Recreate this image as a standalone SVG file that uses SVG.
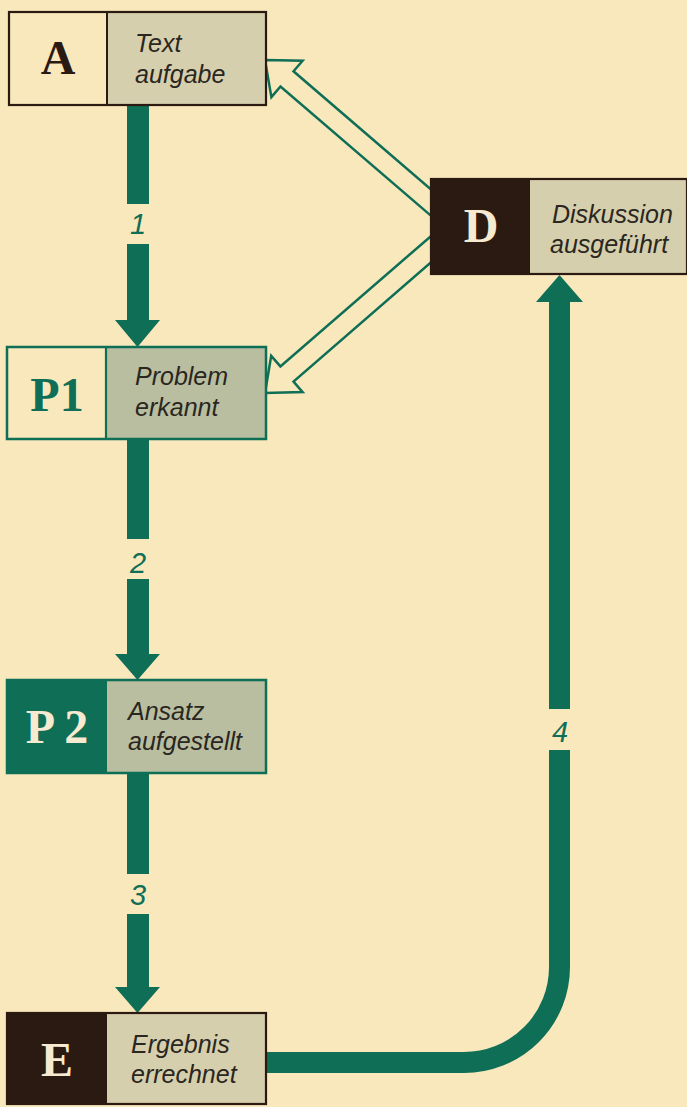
<svg xmlns="http://www.w3.org/2000/svg" width="687" height="1107" viewBox="0 0 687 1107">
<style>
.lbl{font-family:"Liberation Sans",Arial,sans-serif;font-style:italic;font-size:25px;fill:#2a2620}
.big{font-family:"Liberation Serif","Times New Roman",serif;font-size:48px;font-weight:bold;text-anchor:middle}
.num{font-family:"Liberation Sans",Arial,sans-serif;font-style:italic;font-size:29px;fill:#0f6e56;text-anchor:middle}
.g{fill:#0f6e56}
.open{fill:#f9e8bc;stroke:#0f6e56;stroke-width:2.5;stroke-linejoin:miter}
</style>
<rect width="687" height="1107" fill="#f9e8bc"/>
<g id="connectors">
  <rect class="g" x="127" y="105" width="22" height="99"/>
  <rect class="g" x="127" y="244" width="22" height="77"/>
  <polygon class="g" points="115,320 160,320 137.5,347"/>
  <text class="num" x="138" y="234">1</text>
  <rect class="g" x="127" y="439" width="22" height="100"/>
  <rect class="g" x="127" y="579" width="22" height="76"/>
  <polygon class="g" points="115,654 160,654 137.5,680"/>
  <text class="num" x="138" y="573">2</text>
  <rect class="g" x="127" y="773" width="22" height="101"/>
  <rect class="g" x="127" y="914" width="22" height="74"/>
  <polygon class="g" points="115,987 160,987 137.5,1013"/>
  <text class="num" x="138" y="905">3</text>
  <path d="M266 1062.5 H464 A95.5 95.5 0 0 0 559.5 967 V750" fill="none" stroke="#0f6e56" stroke-width="21"/>
  <rect class="g" x="549" y="301" width="21" height="408"/>
  <polygon class="g" points="536,302 583,302 559.5,275"/>
  <text class="num" x="560" y="742">4</text>
  <polygon class="open" points="265,60 302.6,60.7 293.5,71.3 432,190.3 432,216.6 280.5,86.5 271.4,97.1"/>
  <polygon class="open" points="265,393 271.2,355.9 280.4,366.4 432,235.2 432,261.4 293.5,381.6 302.6,392.1"/>
</g>
<g id="node-A">
  <rect x="9" y="12" width="98" height="93" fill="#f9e8bc"/>
  <rect x="107" y="12" width="159" height="93" fill="#d6cfae"/>
  <rect x="9" y="12" width="257" height="93" fill="none" stroke="#2b1a12" stroke-width="2.2"/>
  <line x1="107" y1="12" x2="107" y2="105" stroke="#2b1a12" stroke-width="2"/>
  <text class="big" x="58" y="74" fill="#2b1a12">A</text>
  <text class="lbl" x="135" y="52">Text</text>
  <text class="lbl" x="135" y="83">aufgabe</text>
</g>
<g id="node-D">
  <rect x="431" y="179" width="99" height="95" fill="#2b1a12"/>
  <rect x="530" y="179" width="157" height="95" fill="#d6cfae"/>
  <rect x="431" y="179" width="256" height="95" fill="none" stroke="#2b1a12" stroke-width="2.2"/>
  <text class="big" x="481" y="242" fill="#f6ead0">D</text>
  <text class="lbl" x="552" y="223">Diskussion</text>
  <text class="lbl" x="550" y="253">ausgeführt</text>
</g>
<g id="node-P1">
  <rect x="7" y="347" width="99" height="92" fill="#f9e8bc"/>
  <rect x="106" y="347" width="160" height="92" fill="#b9bea0"/>
  <rect x="7" y="347" width="259" height="92" fill="none" stroke="#0f6e56" stroke-width="2.5"/>
  <line x1="106" y1="347" x2="106" y2="439" stroke="#0f6e56" stroke-width="2.2"/>
  <text class="big" x="57" y="411" fill="#0f6e56">P1</text>
  <text class="lbl" x="135" y="385">Problem</text>
  <text class="lbl" x="135" y="416">erkannt</text>
</g>
<g id="node-P2">
  <rect x="7" y="680" width="100" height="93" fill="#0f6e56"/>
  <rect x="107" y="680" width="159" height="93" fill="#b9bea0"/>
  <rect x="7" y="680" width="259" height="93" fill="none" stroke="#0f6e56" stroke-width="2.5"/>
  <text class="big" x="57" y="743" fill="#f6ead0">P 2</text>
  <text class="lbl" x="128" y="720">Ansatz</text>
  <text class="lbl" x="128" y="750">aufgestellt</text>
</g>
<g id="node-E">
  <rect x="7" y="1013" width="100" height="91" fill="#2b1a12"/>
  <rect x="107" y="1013" width="159" height="91" fill="#d6cfae"/>
  <rect x="7" y="1013" width="259" height="91" fill="none" stroke="#2b1a12" stroke-width="2.2"/>
  <text class="big" x="57" y="1076" fill="#f6ead0">E</text>
  <text class="lbl" x="131" y="1053">Ergebnis</text>
  <text class="lbl" x="131" y="1083">errechnet</text>
</g>
</svg>
